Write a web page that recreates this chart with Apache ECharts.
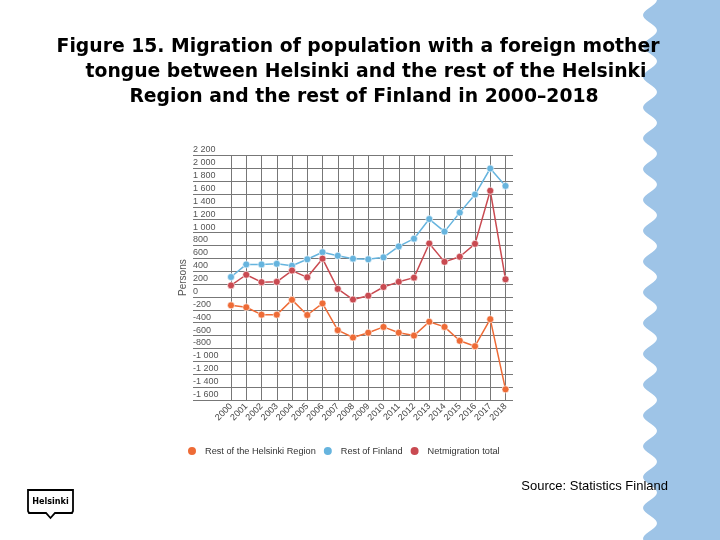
<!DOCTYPE html>
<html><head><meta charset="utf-8">
<script src="https://cdn.jsdelivr.net/npm/echarts@6/dist/echarts.min.js"></script>
<style>html,body{margin:0;padding:0;background:#fff}#c{width:720px;height:540px}</style>
</head><body><div id="c"></div>
<script>
const years = ['2000','2001','2002','2003','2004','2005','2006','2007','2008','2009','2010','2011','2012','2013','2014','2015','2016','2017','2018'];
const restOfHelsinkiRegion = [-130,-160,-275,-275,-45,-280,-100,-515,-630,-555,-465,-555,-600,-385,-465,-680,-765,-345,-1435];
const restOfFinland = [310,505,505,515,485,585,695,640,595,585,615,785,905,1210,1015,1310,1590,1995,1725];
const netmigrationTotal = [180,345,230,235,410,305,595,125,-40,20,155,235,300,830,545,625,825,1650,275];
const seriesNames = ['Rest of the Helsinki Region','Rest of Finland','Netmigration total'];
const yMin = -1600, yMax = 2200, yStep = 200;

const chart = echarts.init(document.getElementById('c'), null, {renderer:'canvas'});

// decorative wavy band on right side
const band = [[720,0]];
for (let y = 0; y <= 540; y += 2) {
  band.push([650 + 7*Math.sin(2*Math.PI*(y+8)/30.8), y]);
}
band.push([720,540]);

const fmt = v => {
  const a = Math.abs(v);
  const s = a >= 1000 ? Math.floor(a/1000) + ' ' + String(a%1000).padStart(3,'0') : String(a);
  return (v < 0 ? '-' : '') + s;
};

const GRID = '#777';
const colors = ['#ee6b36','#66b4de','#c94a51'];
const gTop = 155.3, gBottom = 140;
const titleLines = ['Figure 15. Migration of population with a foreign mother','tongue between Helsinki and the rest of the Helsinki','Region and the rest of Finland in 2000\u20132018'];
const titleFont = 'bold 18.8px "DejaVu Sans", Arial';

chart.setOption({
  animation:false,
  legend:{
    data:seriesNames, left:186, top:445, padding:0, icon:'circle', itemWidth:10, itemHeight:10, itemGap:6,
    textStyle:{fontFamily:'Liberation Sans, Arial', fontSize:9.2, color:'#333', padding:[0,0,0,3]}
  },
  grid:[
    {left:193, right:207, top:gTop, bottom:gBottom, containLabel:false},
    {left:231, right:214.5, top:gTop, bottom:gBottom, containLabel:false}
  ],
  xAxis:[
    {gridIndex:0, type:'value', show:false, min:0, max:1},
    {gridIndex:1, type:'category', data:years, boundaryGap:false,
     axisLine:{show:false}, axisTick:{show:false},
     splitLine:{show:true, lineStyle:{color:GRID, width:1}},
     axisLabel:{rotate:45, margin:5, fontSize:9, color:'#444', fontFamily:'Liberation Sans, Arial', interval:0}}
  ],
  yAxis:[
    {gridIndex:0, type:'value', min:yMin, max:yMax, interval:yStep,
     axisLine:{show:false}, axisTick:{show:false},
     splitLine:{show:true, lineStyle:{color:GRID, width:1}},
     axisLabel:{inside:true, margin:0, align:'left', verticalAlign:'bottom', fontSize:9, color:'#555',
       fontFamily:'Liberation Sans, Arial', formatter:fmt, padding:[0,0,1,0]},
     name:'Persons', nameLocation:'middle', nameGap:5, nameRotate:90,
     nameTextStyle:{fontSize:10, color:'#555', fontFamily:'Liberation Sans, Arial'}},
    {gridIndex:1, type:'value', min:yMin, max:yMax, interval:yStep, show:false, splitLine:{show:false}}
  ],
  series:[
    {name:seriesNames[0], type:'line', xAxisIndex:1, yAxisIndex:1, data:restOfHelsinkiRegion,
     symbol:'circle', symbolSize:7, color:colors[0], lineStyle:{width:1.5, color:colors[0]},
     itemStyle:{color:colors[0], borderColor:'#fff', borderWidth:0.6}},
    {name:seriesNames[1], type:'line', xAxisIndex:1, yAxisIndex:1, data:restOfFinland,
     symbol:'circle', symbolSize:7, color:colors[1], lineStyle:{width:1.5, color:colors[1]},
     itemStyle:{color:colors[1], borderColor:'#fff', borderWidth:0.6}},
    {name:seriesNames[2], type:'line', xAxisIndex:1, yAxisIndex:1, data:netmigrationTotal,
     symbol:'circle', symbolSize:7, color:colors[2], lineStyle:{width:1.5, color:colors[2]},
     itemStyle:{color:colors[2], borderColor:'#fff', borderWidth:0.6}}
  ],
  graphic:[
    {type:'polygon', shape:{points:band}, style:{fill:'#9ec4e7'}, silent:true, z:-1},
    {type:'text', x:358, y:47, style:{text:titleLines[0], font:titleFont, fill:'#000', textAlign:'center', textVerticalAlign:'middle'}},
    {type:'text', x:366, y:72, style:{text:titleLines[1], font:titleFont, fill:'#000', textAlign:'center', textVerticalAlign:'middle'}},
    {type:'text', x:364, y:97, style:{text:titleLines[2], font:titleFont, fill:'#000', textAlign:'center', textVerticalAlign:'middle'}},
    {type:'text', x:668, y:486, style:{text:'Source: Statistics Finland', font:'13px "Liberation Sans", Arial', fill:'#000', textAlign:'right', textVerticalAlign:'middle'}},
    {type:'polygon', shape:{points:[[28,490],[73,490],[73,511],[72,513],[55,513],[50.5,518],[46,513],[29,513],[28,511]]},
     style:{fill:'#fff', stroke:'#000', lineWidth:1.8}},
    {type:'text', x:50.5, y:502, style:{text:'Helsinki', font:'bold 9px "Liberation Sans Narrow", "DejaVu Sans Condensed", Arial', fill:'#000', textAlign:'center', textVerticalAlign:'middle'}}
  ]
});
</script></body></html>
